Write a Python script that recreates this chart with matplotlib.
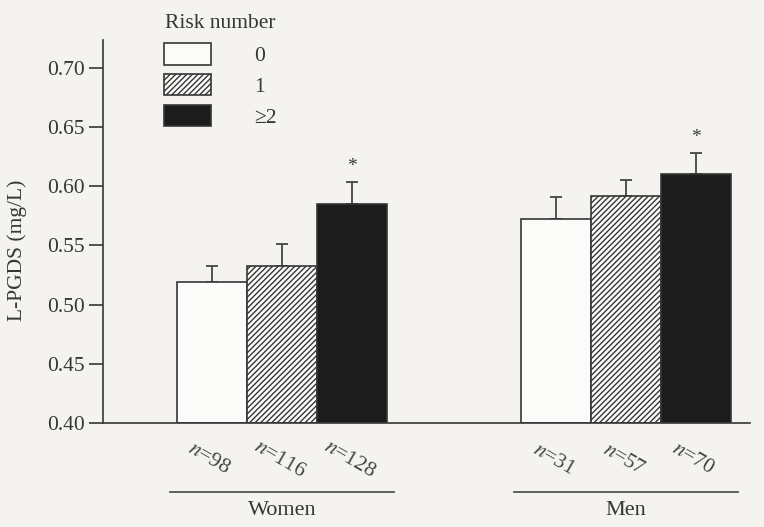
import matplotlib
matplotlib.use('Agg')
import matplotlib.pyplot as plt
import numpy as np

# data
groups = ['Women', 'Men']
risk_labels = ['0', '1', '≥2']
women_mean = [0.519, 0.533, 0.585]
women_err = [0.014, 0.018, 0.019]
men_mean = [0.572, 0.592, 0.610]
men_err = [0.019, 0.013, 0.018]
women_n = ['98', '116', '128']
men_n = ['31', '57', '70']
women_sig = [False, False, True]
men_sig = [False, False, True]

plt.rcParams['font.family'] = ['Liberation Serif', 'DejaVu Serif']
plt.rcParams['mathtext.fontset'] = 'stix'
plt.rcParams['hatch.linewidth'] = 1.0
ink = '#363636'
bg = '#f4f3f0'
fs = 15.5

fig = plt.figure(figsize=(7.64, 5.27), dpi=100, facecolor=bg)
ax = fig.add_axes([0.1348, 0.1973, 0.8469, 0.7267], facecolor=bg)

width = 0.2035
offsets = np.array([-1, 0, 1]) * width
fills = ['#fbfbf9', '#fbfbf9', '#1c1c1c']
hatches = [None, '//////', None]

means = [women_mean, men_mean]
errs = [women_err, men_err]
ns = [women_n, men_n]
sigs = [women_sig, men_sig]

handles = []
for g in range(len(groups)):
    for k in range(3):
        x = g + offsets[k]
        b = ax.bar(x, means[g][k] - 0.40, width, bottom=0.40, color=fills[k],
                   edgecolor=ink, linewidth=1.2, hatch=hatches[k], zorder=2)
        if g == 0:
            handles.append(b)
        ax.errorbar(x, means[g][k], yerr=[[0], [errs[g][k]]], fmt='none',
                    ecolor='#444444', elinewidth=1.3, capsize=4, capthick=1.3, zorder=1)
        if sigs[g][k]:
            ax.annotate('*', (x, means[g][k] + errs[g][k]), xytext=(0, 5),
                        textcoords='offset points', ha='center', va='bottom',
                        fontsize=14, color=ink)
        ax.annotate('$n$=' + ns[g][k], (x, 0), xycoords=('data', 'axes fraction'),
                    xytext=(-2, -26), textcoords='offset points', ha='center', va='center',
                    rotation=-30, fontsize=fs, color='#444444', annotation_clip=False)
    # group underline and name
    tr = ax.get_xaxis_transform()
    ax.plot([g - 1.6 * width, g + 1.6 * width], [-0.18, -0.18], transform=tr,
            color='#444444', linewidth=1.2, clip_on=False)
    ax.text(g, -0.228, groups[g], transform=tr, ha='center', va='center',
            fontsize=fs + 0.5, color=ink)

ax.set_xlim(-0.52, 1.36)
ax.set_ylim(0.40, 0.7235)
ax.set_yticks([0.40, 0.45, 0.50, 0.55, 0.60, 0.65, 0.70])
ax.set_yticklabels(['%.2f' % v for v in ax.get_yticks()])
ax.set_xticks([])
ax.tick_params(axis='y', direction='out', length=10, width=1.2, pad=3,
               labelsize=fs, colors=ink)
for s in ['top', 'right']:
    ax.spines[s].set_visible(False)
for s in ['left', 'bottom']:
    ax.spines[s].set_color(ink)
    ax.spines[s].set_linewidth(1.2)
ax.set_ylabel('L-PGDS (mg/L)', fontsize=fs, color=ink)
ax.yaxis.set_label_coords(-0.117, 0.45)

leg = fig.legend(handles, risk_labels, title='Risk number', loc='upper left',
                 bbox_to_anchor=(0.2, 0.993), frameon=False, fontsize=fs,
                 title_fontsize=fs, handlelength=2.2, handleheight=1.15,
                 labelspacing=0.37, handletextpad=2.0, borderpad=0)
leg._legend_box.sep = 7
for t in leg.get_texts():
    t.set_color(ink)
leg.get_title().set_color(ink)

fig.savefig('out.png', dpi=100, facecolor=bg)
